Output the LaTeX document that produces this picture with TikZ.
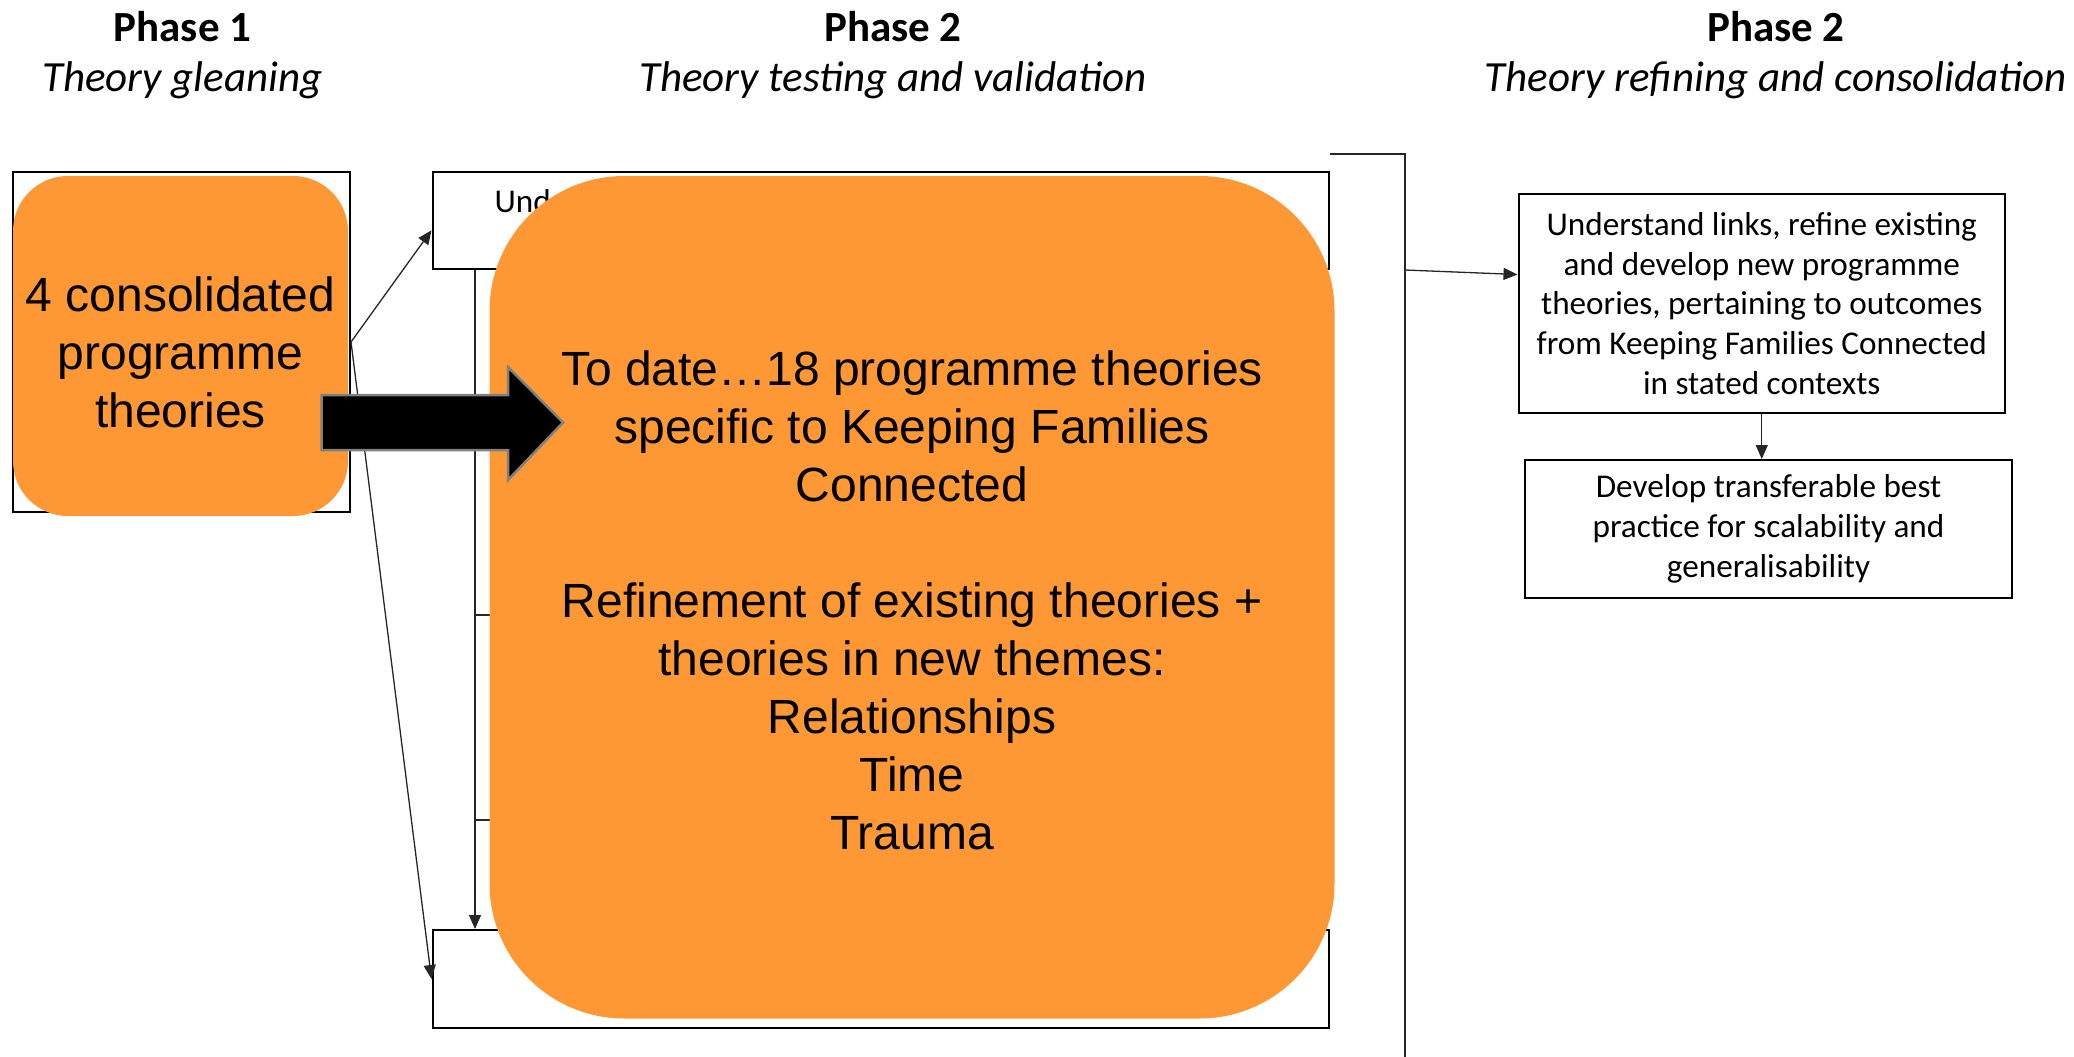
\documentclass[tikz,border=0pt]{standalone}
\usepackage{fontspec}
\setmainfont{Carlito}
\newfontfamily\arialf{Liberation Sans}
\usetikzlibrary{arrows.meta,calc}
\definecolor{orng}{RGB}{253,152,53}
\definecolor{agrey}{RGB}{128,128,128}
\begin{document}
\begin{tikzpicture}[x=1pt,y=-1pt,
  box/.style={draw, line width=2pt, inner sep=0pt},
  conn/.style={line width=1.3pt, draw=black!85},
  arr/.style={conn, -{Triangle[length=14pt,width=12pt]}},
  blob/.style={fill=orng, draw=none, inner sep=0pt},
  blobtext/.style={align=center, inner sep=0pt, font=\arialf\fontsize{48}{58}\selectfont, text=black},
  hdr/.style={font=\fontsize{43}{50}\selectfont\bfseries},
  sub/.style={font=\fontsize{43}{50}\selectfont\itshape},
  txt/.style={box, align=center, font=\fontsize{33.2}{39.7}\selectfont}]
\useasboundingbox (0,0) rectangle (2074,1057);
% headers
\node[hdr] (p1) at (182.5,26.5) {Phase 1};
\node[sub] (s1) at (182.5,80) {Theory gleaning};
\node[hdr] (p2) at (893,26.5) {Phase 2};
\node[sub] (s2) at (893,80) {Theory testing and validation};
\node[hdr] (p3) at (1776,26.5) {Phase 2};
\node[sub] (s3) at (1776,80) {Theory refining and consolidation};
% boxes
\node[box, minimum width=337pt, minimum height=340pt] (lbox) at (181.5,342) {};
\node[box, minimum width=896.5pt, minimum height=96.5pt] (topbox) at (880.75,220.25) {};
\node[box, minimum width=896.5pt, minimum height=98pt] (botbox) at (880.75,979) {};
\node[anchor=west, font=\fontsize{33.2}{39.7}\selectfont] (und) at (491,201) {Und};
\node[txt, minimum width=486.5pt, minimum height=219pt] (box1) at (1761.75,303.5)
  {Understand links, refine existing\\and develop new programme\\theories, pertaining to outcomes\\from Keeping Families Connected\\in stated contexts};
\node[txt, minimum width=487pt, minimum height=138pt] (box2) at (1768.5,529)
  {Develop transferable best\\practice for scalability and\\generalisability};
% connectors
\coordinate (vx) at (475,0);
\coordinate (t1) at (475,615);
\coordinate (t2) at (475,820);
\coordinate (brA) at (1330,154);
\coordinate (brB) at (1405,154);
\coordinate (brC) at (1405,1057);
\coordinate (brM) at (1405,270);
\draw[arr] (lbox.east) -- ([yshift=-10pt]topbox.west);
\draw[arr] (lbox.east) -- (botbox.west);
\draw[arr] (vx |- topbox.south) -- (vx |- botbox.north);
\draw[conn] (t1) -- ++(20,0);
\draw[conn] (t2) -- ++(20,0);
\draw[conn] (brA) -- (brB) -- (brC);
\draw[arr] (brM) -- ([yshift=29pt]box1.west);
\draw[arr] (box1.south) -- (box1.south |- box2.north);
% orange blobs
\node[blob, rounded corners=55pt, minimum width=335pt, minimum height=340pt] (small) at (180.5,346) {};
\node[blobtext] (smalltxt) at (180.5,352) {4 consolidated\\programme\\theories};
\node[blob, rounded corners=135pt, minimum width=845pt, minimum height=842.5pt] (big) at (912,597.25) {};
\node[blobtext] (bigtxt) at (912,600)
  {To date…18 programme theories\\specific to Keeping Families\\Connected\\[58pt]Refinement of existing theories +\\theories in new themes:\\Relationships\\Time\\Trauma};
% big arrow
\draw[fill=black, draw=agrey, line width=2.5pt] (321.5,395) -- (508,395) -- (508,367) -- (563,422.5) -- (508,480) -- (508,450) -- (321.5,450) -- cycle;
\end{tikzpicture}
\end{document}
